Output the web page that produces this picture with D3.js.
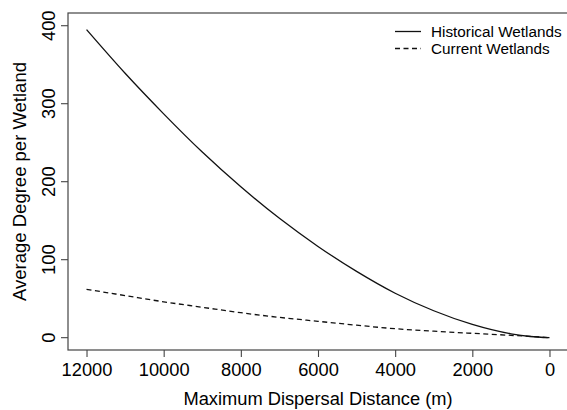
<!DOCTYPE html>
<html>
<head>
<meta charset="utf-8">
<script src="https://cdn.jsdelivr.net/npm/d3@7/dist/d3.min.js"></script>
<style>
  html, body { margin: 0; padding: 0; background: #fff; }
  svg { display: block; font-family: "Liberation Sans", Arial, Helvetica, sans-serif; }
</style>
</head>
<body>
<svg id="chart" width="567" height="410"></svg>
<script>
// Data
const distances = [12000, 11000, 10000, 9000, 8000, 7000, 6000, 5000, 4000, 3000, 2000, 1000, 500, 0];
const historical = [395, 339, 287, 238, 193.5, 153, 117, 85, 57, 34.5, 17, 5, 1.5, 0];
const current = [62, 54, 46, 39, 32, 26, 21, 16, 11.5, 8.3, 5.6, 3, 1.6, 0];
const xTicks = [12000, 10000, 8000, 6000, 4000, 2000, 0];
const yTicks = [0, 100, 200, 300, 400];
const seriesNames = ["Historical Wetlands", "Current Wetlands"];

const svg = d3.select("#chart");
const pLeft = 68, pRight = 568, pTop = 13, pBottom = 350;

const x = d3.scaleLinear().domain([12480, -480]).range([pLeft, pRight]);
const y = d3.scaleLinear().domain([-15.8, 416.3]).range([pBottom, pTop]);

const axisColor = "#444";
const fontFam = "'Liberation Sans', Arial, sans-serif";

// Box
svg.append("rect")
  .attr("x", pLeft).attr("y", pTop)
  .attr("width", pRight - pLeft).attr("height", pBottom - pTop)
  .attr("fill", "none").attr("stroke", axisColor).attr("stroke-width", 1.2);

// X axis
const xAxis = svg.append("g")
  .attr("transform", `translate(0,${pBottom})`)
  .call(d3.axisBottom(x).tickValues(xTicks).tickSize(7).tickPadding(6).tickFormat(d3.format("d")));
xAxis.select(".domain").remove();
xAxis.selectAll("line").attr("stroke", axisColor).attr("stroke-width", 1.1);
xAxis.selectAll("text").attr("font-size", 18.3).attr("fill", "#000")
  .attr("font-family", fontFam);

// Y axis
const yAxis = svg.append("g")
  .attr("transform", `translate(${pLeft},0)`)
  .call(d3.axisLeft(y).tickValues(yTicks).tickSize(7).tickFormat(d3.format("d")));
yAxis.select(".domain").remove();
yAxis.selectAll(".tick").attr("transform", null);
yAxis.selectAll(".tick line")
  .attr("y1", d => y(d)).attr("y2", d => y(d))
  .attr("stroke", axisColor).attr("stroke-width", 1.1);
yAxis.selectAll(".tick text")
  .attr("font-size", 18.3).attr("fill", "#000")
  .attr("font-family", fontFam)
  .attr("x", 0).attr("y", 0).attr("dy", null)
  .attr("text-anchor", "middle")
  .attr("transform", d => `translate(-13.5,${y(d)}) rotate(-90)`);

// Axis titles
svg.append("text")
  .attr("x", (pLeft + pRight) / 2).attr("y", 405)
  .attr("text-anchor", "middle").attr("font-size", 18.3).attr("fill", "#000")
  .attr("font-family", fontFam)
  .text("Maximum Dispersal Distance (m)");

svg.append("text")
  .attr("transform", `translate(26,${(pTop + pBottom) / 2}) rotate(-90)`)
  .attr("text-anchor", "middle").attr("font-size", 18.5).attr("fill", "#000")
  .attr("font-family", fontFam)
  .text("Average Degree per Wetland");

// Lines
const line = d3.line().x(d => x(d[0])).y(d => y(d[1])).curve(d3.curveMonotoneX);
const histData = distances.map((d, i) => [d, historical[i]]);
const curData = distances.map((d, i) => [d, current[i]]);

svg.append("path").datum(histData)
  .attr("d", line).attr("fill", "none").attr("stroke", "#111").attr("stroke-width", 1.3);
svg.append("path").datum(curData)
  .attr("d", line).attr("fill", "none").attr("stroke", "#111").attr("stroke-width", 1.3)
  .attr("stroke-dasharray", "5,3.5");

// Legend
const legend = svg.append("g");
const dashes = [null, "5,3.5"];
seriesNames.forEach((name, i) => {
  const ly = 31.5 + i * 17;
  legend.append("line")
    .attr("x1", 395).attr("x2", 421).attr("y1", ly).attr("y2", ly)
    .attr("stroke", "#111").attr("stroke-width", 1.3)
    .attr("stroke-dasharray", dashes[i]);
  legend.append("text")
    .attr("x", 431).attr("y", ly).attr("dy", "0.35em")
    .attr("font-size", 15.3).attr("fill", "#000")
    .attr("font-family", fontFam)
    .text(name);
});
</script>
</body>
</html>
